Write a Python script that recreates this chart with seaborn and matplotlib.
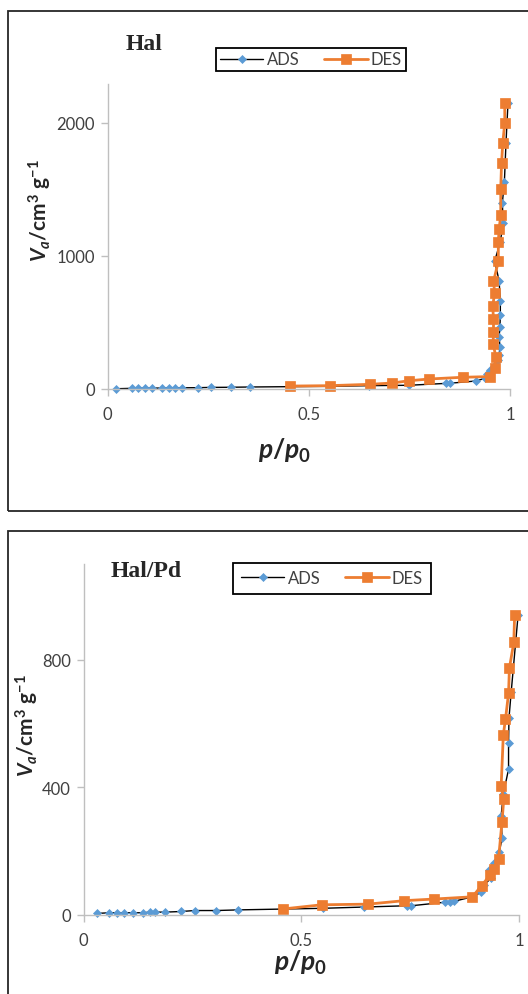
import matplotlib
matplotlib.use("Agg")
import matplotlib.pyplot as plt
import seaborn as sns
from matplotlib.patches import Rectangle

# ---------------- data ----------------
hal_ads_p = [0.021, 0.060, 0.075, 0.092, 0.111, 0.136, 0.153, 0.167, 0.186, 0.226,
             0.256, 0.306, 0.354, 0.551, 0.650, 0.749, 0.840, 0.850, 0.915, 0.938,
             0.944, 0.950, 0.962, 0.970, 0.973, 0.975, 0.973, 0.975, 0.976, 0.976,
             0.973, 0.962, 0.976, 0.983, 0.981, 0.986, 0.990, 0.995]
hal_ads_v = [2, 5, 6, 6, 7, 7, 8, 8, 9, 10,
             12, 13, 15, 20, 25, 28, 42, 43, 60, 80,
             114, 139, 177, 215, 253, 316, 392, 468, 557, 658,
             810, 961, 1105, 1246, 1398, 1550, 1846, 2145]
hal_des_p = [0.987, 0.987, 0.982, 0.979, 0.977, 0.977, 0.973, 0.971, 0.971, 0.959,
             0.962, 0.957, 0.959, 0.959, 0.958, 0.965, 0.962, 0.950, 0.882, 0.799,
             0.749, 0.708, 0.651, 0.552, 0.454]
hal_des_v = [2145, 1997, 1845, 1694, 1504, 1303, 1203, 1105, 957, 807,
             722, 622, 526, 429, 338, 241, 158, 93, 88, 75,
             62, 45, 35, 25, 22]

halpd_ads_p = [0.032, 0.059, 0.076, 0.092, 0.114, 0.137, 0.152, 0.165, 0.187, 0.225,
               0.255, 0.305, 0.355, 0.550, 0.645, 0.743, 0.753, 0.830, 0.842, 0.851,
               0.893, 0.913, 0.920, 0.936, 0.930, 0.942, 0.955, 0.961, 0.959, 0.964,
               0.976, 0.976, 0.977, 0.982, 0.998]
halpd_ads_v = [5, 7, 7, 7, 7, 7, 9, 9, 9, 11,
               14, 14, 16, 21, 25, 29, 29, 40, 40, 43,
               57, 71, 94, 116, 142, 162, 198, 241, 311, 379,
               457, 538, 617, 698, 941]
halpd_des_p = [0.990, 0.988, 0.978, 0.976, 0.969, 0.964, 0.959, 0.965, 0.961, 0.953,
               0.942, 0.934, 0.914, 0.893, 0.805, 0.737, 0.653, 0.547, 0.459]
halpd_des_v = [941, 854, 774, 695, 614, 565, 403, 363, 293, 175,
               144, 126, 92, 57, 50, 45, 34, 32, 19]

x_ticks = [0, 0.5, 1]
x_ticklabels = ["0", "0.5", "1"]
hal_yticks = [0, 1000, 2000]
halpd_yticks = [0, 400, 800]
series_labels = ["ADS", "DES"]
panel_titles = ["Hal", "Hal/Pd"]

# ---------------- style ----------------
sns.set_style("white")
plt.rcParams["font.family"] = ["Lato", "DejaVu Sans"]
plt.rcParams["mathtext.fontset"] = "custom"
plt.rcParams["mathtext.it"] = "Lato:italic:bold"
plt.rcParams["mathtext.rm"] = "Lato:bold"
plt.rcParams["mathtext.bf"] = "Lato:bold"

W, H = 528, 995
fig = plt.figure(figsize=(W / 100, H / 100), dpi=100)


def fx(px):
    return px / W


def fy(py):
    return 1 - py / H


# panel frames
for (x0, y0, x1, y1) in [(8.4, 11.7, 560, 511.7), (8.4, 531.7, 560, 1020)]:
    fig.patches.append(Rectangle((fx(x0), fy(y1)), (x1 - x0) / W, (y1 - y0) / H,
                                 transform=fig.transFigure, fill=False,
                                 edgecolor="#262626", linewidth=1.3))

ADS_LINE = "black"
ADS_MARK = "#5B9BD5"
DES_COL = "#ED7D31"
AXIS_COL = "#BFBFBF"
TICK_TXT = "#404040"


def panel(rect, ads_p, ads_v, des_p, des_v, ymax, yticks, title, title_xy,
          leg_xy, leg_pad, ylab_xy, xlab_xy):
    ax = fig.add_axes(rect)
    sns.lineplot(x=ads_p, y=ads_v, sort=False, estimator=None, ax=ax,
                 color=ADS_LINE, linewidth=1.0, marker="D", markersize=4.5,
                 markerfacecolor=ADS_MARK, markeredgecolor=ADS_MARK,
                 markeredgewidth=0.5, label=series_labels[0], clip_on=False)
    sns.lineplot(x=des_p, y=des_v, sort=False, estimator=None, ax=ax,
                 color=DES_COL, linewidth=2.0, marker="s", markersize=6.5,
                 markerfacecolor=DES_COL, markeredgecolor=DES_COL,
                 markeredgewidth=0.5, label=series_labels[1], clip_on=False)
    ax.set_xlim(0, 1)
    ax.set_ylim(0, ymax)
    ax.set_xticks(x_ticks)
    ax.set_xticklabels(x_ticklabels)
    ax.set_yticks(yticks)
    ax.set_yticklabels([str(t) for t in yticks])
    ax.set_xlabel("")
    ax.set_ylabel("")
    for s in ["top", "right"]:
        ax.spines[s].set_visible(False)
    for s in ["left", "bottom"]:
        ax.spines[s].set_color(AXIS_COL)
        ax.spines[s].set_linewidth(1.0)
    ax.tick_params(axis="both", direction="out", length=5, width=1,
                   color=AXIS_COL, labelcolor=TICK_TXT, labelsize=12,
                   bottom=True, left=True)
    ax.tick_params(axis="y", pad=4)
    ax.tick_params(axis="x", pad=7)
    handles, labels = ax.get_legend_handles_labels()
    leg = ax.legend(handles, labels, loc="center",
                    bbox_to_anchor=(fx(leg_xy[0]), fy(leg_xy[1])),
                    bbox_transform=fig.transFigure, ncol=2, frameon=True,
                    fancybox=False, edgecolor="black", framealpha=1,
                    fontsize=12, handlelength=2.6, handletextpad=0.2,
                    columnspacing=1.5, borderpad=leg_pad, borderaxespad=0)
    leg.get_frame().set_linewidth(1.3)
    for t in leg.get_texts():
        t.set_color("#404040")
    fig.text(fx(title_xy[0]), fy(title_xy[1]), title, family="Liberation Serif",
             weight="bold", size=17, ha="center", va="center")
    fig.text(fx(ylab_xy[0]), fy(ylab_xy[1]),
             r"$V_a/\mathrm{cm}^3\ \mathrm{g}^{-1}$", rotation=90,
             ha="center", va="center", size=15)
    fig.text(fx(xlab_xy[0]), fy(xlab_xy[1]), r"$p/p_0$",
             ha="center", va="center", size=19)
    return ax


panel([fx(107.5), fy(390), 402.5 / W, 305 / H],
      hal_ads_p, hal_ads_v, hal_des_p, hal_des_v, 2289, hal_yticks,
      panel_titles[0], (144, 44), (311, 60.5), 0.22, (40.4, 210), (284.5, 450.7))

panel([fx(83.5), fy(916), 435.5 / W, 351 / H],
      halpd_ads_p, halpd_ads_v, halpd_des_p, halpd_des_v, 1100, halpd_yticks,
      panel_titles[1], (146.5, 571.7), (332, 579), 0.45, (27, 725), (300.5, 963.3))

fig.savefig("out.png", dpi=100)
